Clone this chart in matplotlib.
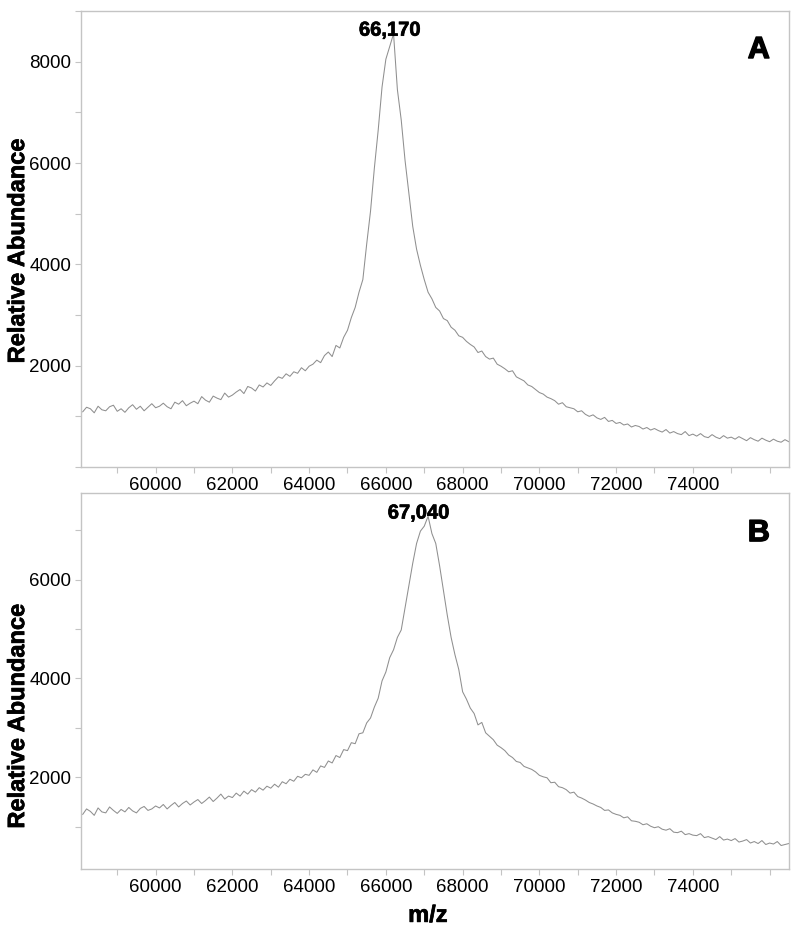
import numpy as np
import matplotlib
matplotlib.use("Agg")
import matplotlib.pyplot as plt
import matplotlib.patheffects as pe
from matplotlib.ticker import MultipleLocator, FuncFormatter

plt.rcParams['font.family'] = ['Liberation Sans', 'DejaVu Sans']

# m/z grid (Da) for both spectra
mz = list(range(58100, 76501, 100))

# Panel A intensities
abund_a = [
    1090, 1180, 1150, 1070, 1200, 1130, 1110, 1190, 1220, 1100,
    1150, 1080, 1170, 1230, 1140, 1200, 1110, 1180, 1250, 1170,
    1200, 1260, 1190, 1150, 1280, 1240, 1310, 1210, 1260, 1300,
    1250, 1390, 1320, 1280, 1400, 1360, 1330, 1460, 1380, 1420,
    1480, 1530, 1450, 1590, 1560, 1500, 1620, 1580, 1660, 1610,
    1700, 1780, 1750, 1840, 1790, 1880, 1850, 1960, 1900, 1990,
    2030, 2110, 2060, 2200, 2270, 2180, 2400, 2350, 2560, 2700,
    2950, 3150, 3450, 3700, 4400, 5050, 5900, 6650, 7500, 8050,
    8300, 8550, 7450, 6850,
    6050, 5400, 4750, 4300, 3980, 3700,
    3450, 3320, 3150, 3080, 2930, 2890, 2760, 2700, 2590, 2560,
    2480, 2420, 2370, 2260, 2290, 2180, 2130, 2150, 2030, 1990,
    1940, 1880, 1900, 1780, 1740, 1700, 1620, 1590, 1530, 1470,
    1440, 1380, 1350, 1310, 1240, 1270, 1190, 1170, 1150, 1090,
    1110, 1040, 1000, 1030, 970, 940, 980, 900, 920, 860,
    880, 830, 850, 790, 820, 800, 750, 780, 730, 760,
    720, 690, 740, 670, 700, 660, 640, 700, 620, 650,
    610, 660, 600, 580, 640, 590, 560, 620, 570, 590,
    550, 600, 560, 520, 580, 540, 510, 570, 530, 500,
    550, 510, 490, 540, 500,
]

# Panel B intensities
abund_b = [
    1250, 1360, 1310, 1230, 1380, 1300, 1280, 1400, 1330, 1270,
    1350, 1300, 1390, 1320, 1280, 1370, 1410, 1330, 1360, 1420,
    1380, 1450, 1360, 1430, 1490, 1400, 1470, 1520, 1440, 1500,
    1550, 1470, 1530, 1600, 1510, 1580, 1660, 1560, 1620, 1590,
    1680, 1620, 1720, 1660, 1750, 1700, 1790, 1740, 1820, 1780,
    1860, 1800, 1910, 1870, 1960, 1920, 2020, 1990, 2060, 2040,
    2150, 2100, 2230, 2200, 2330, 2290, 2440, 2400, 2560, 2540,
    2700, 2680, 2880, 2900, 3100, 3200, 3420, 3600, 3950, 4130,
    4420, 4580, 4830, 4980,
    5430, 5880, 6330, 6730, 6980, 7080,
    7280, 6930, 6730, 6280, 5780, 5280, 4830, 4480, 4180, 3730,
    3580, 3400, 3290, 3060, 3110, 2900, 2830, 2760, 2650, 2600,
    2540, 2450, 2400, 2320, 2300, 2220, 2190, 2160, 2110, 2040,
    2010, 1990, 1890, 1900, 1810, 1790, 1750, 1680, 1700, 1610,
    1580, 1540, 1490, 1460, 1420, 1390, 1330, 1340, 1280, 1250,
    1230, 1180, 1200, 1120, 1110, 1090, 1040, 1060, 1010, 980,
    1000, 950, 930, 960, 890, 880, 910, 840, 860, 830,
    820, 860, 780, 800, 770, 740, 800, 730, 750, 720,
    760, 690, 710, 740, 670, 700, 660, 720, 640, 670,
    650, 700, 620, 640, 660,
]

panel_letters = ["A", "B"]
peak_labels = ["66,170", "67,040"]
ylims = [(0, 9000), (145, 7745)]
xlim = (58050, 76500)

fig = plt.figure(figsize=(8, 9.35), dpi=100)
ax_a = fig.add_axes([0.101, 0.5005, 0.885, 0.4877])
ax_b = fig.add_axes([0.101, 0.0706, 0.885, 0.4018])

line_color = '#8f8f8f'
spine_color = '#c4c4c4'
heavy = [pe.withStroke(linewidth=0.5, foreground='black')]

def xfmt(v, pos):
    v = int(round(v))
    if v % 2000 == 0 and 60000 <= v <= 74000:
        return str(v)
    return ''

def yfmt(v, pos):
    v = int(round(v))
    if v % 2000 == 0 and v > 0:
        return str(v)
    return ''

label_pos = [(0.4364, 0.958), (0.477, 0.9475)]
letter_pos = [(0.9576, 0.9145), (0.9576, 0.894)]
ylabel_y = [0.7316, 0.234]

for i, (ax, vals) in enumerate(zip([ax_a, ax_b], [abund_a, abund_b])):
    ax.plot(mz, vals, color=line_color, lw=0.75)
    ax.set_xlim(*xlim)
    ax.set_ylim(*ylims[i])
    ax.xaxis.set_major_locator(MultipleLocator(1000))
    ax.yaxis.set_major_locator(MultipleLocator(1000))
    ax.xaxis.set_major_formatter(FuncFormatter(xfmt))
    ax.yaxis.set_major_formatter(FuncFormatter(yfmt))
    ax.tick_params(direction='out', length=4, width=0.8, color=spine_color,
                   labelsize=13.5, labelcolor='black', pad=3)
    for s in ax.spines.values():
        s.set_color(spine_color)
        s.set_linewidth(1.0)
    ax.text(label_pos[i][0], label_pos[i][1], peak_labels[i], transform=ax.transAxes,
            ha='center', va='center', fontsize=14.5, fontweight='bold', path_effects=heavy)
    ax.text(letter_pos[i][0], letter_pos[i][1], panel_letters[i], transform=ax.transAxes,
            ha='center', va='center', fontsize=22, fontweight='bold',
            path_effects=[pe.withStroke(linewidth=1.0, foreground='black')])
    fig.text(0.022, ylabel_y[i], 'Relative Abundance', rotation=90, ha='center', va='center',
             fontsize=17, fontweight='bold', path_effects=heavy)

fig.text(0.535, 0.021, 'm/z', ha='center', va='center', fontsize=17, fontweight='bold',
         path_effects=heavy)

fig.savefig('out.png', dpi=100)
